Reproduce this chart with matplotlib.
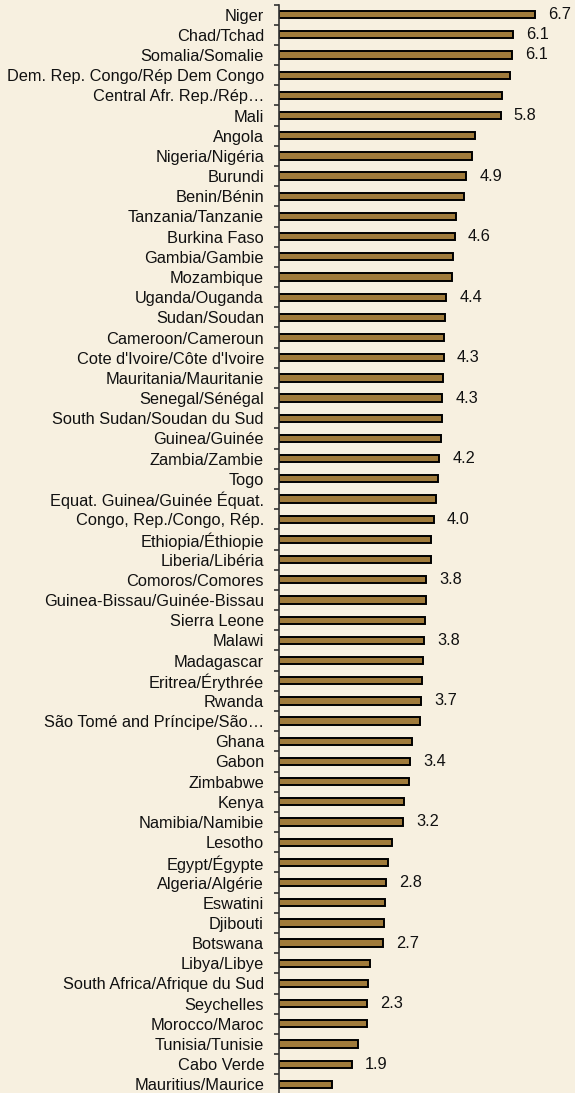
import matplotlib.pyplot as plt
import matplotlib as mpl
from matplotlib.ticker import FixedLocator

plt.rcParams['font.family'] = ['Liberation Sans', 'DejaVu Sans']

countries = [
    'Niger', 'Chad/Tchad', 'Somalia/Somalie', 'Dem. Rep. Congo/Rép Dem Congo',
    'Central Afr. Rep./Rép…', 'Mali', 'Angola', 'Nigeria/Nigéria', 'Burundi',
    'Benin/Bénin', 'Tanzania/Tanzanie', 'Burkina Faso', 'Gambia/Gambie',
    'Mozambique', 'Uganda/Ouganda', 'Sudan/Soudan', 'Cameroon/Cameroun',
    "Cote d'Ivoire/Côte d'Ivoire", 'Mauritania/Mauritanie', 'Senegal/Sénégal',
    'South Sudan/Soudan du Sud', 'Guinea/Guinée', 'Zambia/Zambie', 'Togo',
    'Equat. Guinea/Guinée Équat.', 'Congo, Rep./Congo, Rép.', 'Ethiopia/Éthiopie',
    'Liberia/Libéria', 'Comoros/Comores', 'Guinea-Bissau/Guinée-Bissau',
    'Sierra Leone', 'Malawi', 'Madagascar', 'Eritrea/Érythrée', 'Rwanda',
    'São Tomé and Príncipe/São…', 'Ghana', 'Gabon', 'Zimbabwe', 'Kenya',
    'Namibia/Namibie', 'Lesotho', 'Egypt/Égypte', 'Algeria/Algérie', 'Eswatini',
    'Djibouti', 'Botswana', 'Libya/Libye', 'South Africa/Afrique du Sud',
    'Seychelles', 'Morocco/Maroc', 'Tunisia/Tunisie', 'Cabo Verde',
    'Mauritius/Maurice',
]
values = [
    6.7, 6.13, 6.1, 6.05, 5.85, 5.8, 5.13, 5.06, 4.9, 4.84, 4.63, 4.6, 4.55,
    4.53, 4.38, 4.35, 4.33, 4.31, 4.29, 4.28, 4.27, 4.24, 4.2, 4.16, 4.1, 4.05,
    3.98, 3.97, 3.85, 3.85, 3.82, 3.8, 3.77, 3.74, 3.71, 3.7, 3.48, 3.43, 3.4,
    3.27, 3.24, 2.96, 2.85, 2.8, 2.77, 2.75, 2.73, 2.38, 2.34, 2.31, 2.3, 2.07,
    1.9, 1.38,
]
# value labels shown only on some bars
shown = [
    '6.7', '6.1', '6.1', None, None, '5.8', None, None, '4.9', None, None, '4.6',
    None, None, '4.4', None, None, '4.3', None, '4.3', None, None, '4.2', None,
    None, '4.0', None, None, '3.8', None, None, '3.8', None, None, '3.7', None,
    None, '3.4', None, None, '3.2', None, None, '2.8', None, None, '2.7', None,
    None, '2.3', None, None, '1.9', None,
]

bg = '#F7F0E0'
bar_color = '#A07B3B'

fig = plt.figure(figsize=(5.75, 10.93), dpi=100)
fig.patch.set_facecolor(bg)
ax = fig.add_axes([279 / 575, -1.5 / 1093, 296 / 575, 1090 / 1093])
ax.set_facecolor(bg)

n = len(countries)
ypos = list(range(n))
ax.barh(ypos, values, height=0.36, color=bar_color, edgecolor='black',
        linewidth=1.4)

for y, v, s in zip(ypos, values, shown):
    if s:
        ax.annotate(s, (v, y), xytext=(9.5, 0), textcoords='offset points',
                    va='center', ha='left', fontsize=11.8, color='#111111')

ax.set_ylim(n - 0.5, -0.5)
ax.set_xlim(0, 296 / 38.2)
ax.set_yticks(ypos)
ax.set_yticklabels(countries, fontsize=11.75, color='#111111')
ax.yaxis.set_minor_locator(FixedLocator([i - 0.5 for i in range(n + 1)]))
ax.tick_params(axis='y', which='major', length=0, pad=10.8)
ax.tick_params(axis='y', which='minor', length=3.8, width=1.2, color='#333333')
ax.tick_params(axis='x', bottom=False, labelbottom=False)
for side in ['top', 'right', 'bottom']:
    ax.spines[side].set_visible(False)
ax.spines['left'].set_linewidth(1.2)
ax.spines['left'].set_color('#333333')

fig.savefig('out.png', dpi=100, facecolor=bg)
